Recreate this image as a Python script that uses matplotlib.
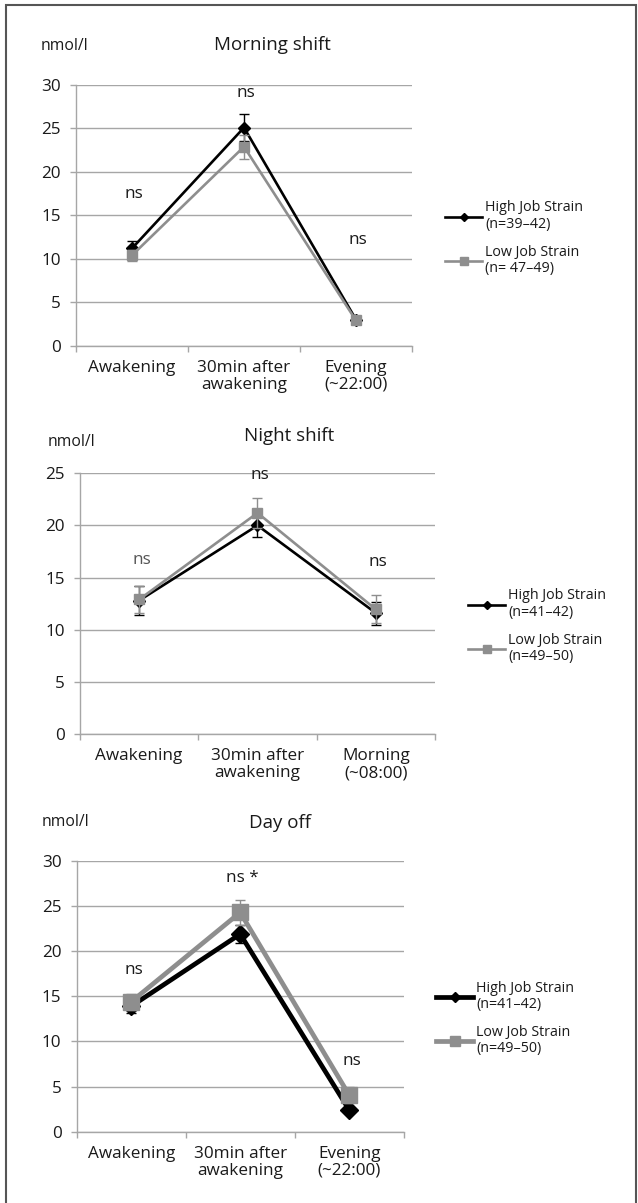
import matplotlib
matplotlib.use("Agg")
import matplotlib.pyplot as plt
from matplotlib.patches import Rectangle
from matplotlib.lines import Line2D

plt.rcParams['font.family'] = ['Open Sans', 'DejaVu Sans']

# ---------------- data ----------------
cats_morning = ["Awakening", "30min after\nawakening", "Evening\n(~22:00)"]
cats_night = ["Awakening", "30min after\nawakening", "Morning\n(~08:00)"]
cats_dayoff = ["Awakening", "30min after\nawakening", "Evening\n(~22:00)"]

morning_high = [11.2, 25.1, 3.0]
morning_high_err = [0.8, 1.6, 0.3]
morning_low = [10.4, 22.9, 2.9]
morning_low_err = [0.6, 1.4, 0.3]

night_high = [12.8, 20.0, 11.6]
night_high_err = [1.4, 1.1, 1.1]
night_low = [12.9, 21.2, 11.95]
night_low_err = [1.3, 1.4, 1.35]

dayoff_high = [13.9, 21.9, 2.4]
dayoff_high_err = [0.8, 1.0, 0.3]
dayoff_low = [14.4, 24.3, 4.05]
dayoff_low_err = [0.9, 1.4, 0.9]

titles = ["Morning shift", "Night shift", "Day off"]
ymaxes = [30, 25, 30]
legend_high = ["High Job Strain\n(n=39\u201342)", "High Job Strain\n(n=41\u201342)", "High Job Strain\n(n=41\u201342)"]
legend_low = ["Low Job Strain\n(n= 47\u201349)", "Low Job Strain\n(n=49\u201350)", "Low Job Strain\n(n=49\u201350)"]

# significance annotations: (category index, y value, text)
ann_morning = [(0, 17.4, "ns"), (1, 29.1, "ns"), (2, 12.2, "ns")]
ann_night = [(0, 16.7, "ns"), (1, 24.8, "ns"), (2, 16.5, "ns")]
ann_dayoff = [(0, 17.9, "ns"), (1, 28.1, "ns *"), (2, 7.8, "ns")]

# ---------------- layout ----------------
W, H = 638, 1203
fig = plt.figure(figsize=(W / 100, H / 100), dpi=100)
fig.patch.set_facecolor("white")

def fx(x):
    return x / W

def fy(y):
    return 1 - y / H

def rect(left, right, top, bottom):
    return [fx(left), fy(bottom), (right - left) / W, (bottom - top) / H]

axes_px = [(76, 412, 85, 345.7), (80, 435, 473.3, 734), (76.7, 403.7, 861, 1131.7)]
title_px = [(272, 44.5), (289, 435.5), (280, 823.5)]
unit_px = [(64, 46), (71.5, 441.7), (65, 821.7)]
legend_px = [(445, 200.5), (468, 588.5), (436, 980.5)]

BLACK = "#000000"
GRAY = "#8e8e8e"
GRID = "#a6a6a6"
TXT = "#1a1a1a"
FS = 12.3

panels = [
    (cats_morning, morning_high, morning_high_err, morning_low, morning_low_err, ann_morning),
    (cats_night, night_high, night_high_err, night_low, night_low_err, ann_night),
    (cats_dayoff, dayoff_high, dayoff_high_err, dayoff_low, dayoff_low_err, ann_dayoff),
]

for i, (cats, hi, hie, lo, loe, ann) in enumerate(panels):
    ax = fig.add_axes(rect(*axes_px[i]))
    x = list(range(len(cats)))
    thick = (i == 2)
    lw = 3.4 if thick else 1.9
    ms_d = 9 if thick else 6
    ms_s = 11 if thick else 7.5
    ax.errorbar(x, hi, yerr=hie, color=BLACK, ecolor=BLACK, lw=lw,
                marker="D", ms=ms_d, mec=BLACK, mfc=BLACK,
                capsize=3.5, elinewidth=1, capthick=1, zorder=3)
    ax.errorbar(x, lo, yerr=loe, color=GRAY, ecolor=GRAY, lw=lw,
                marker="s", ms=ms_s, mec=GRAY, mfc=GRAY,
                capsize=3.5, elinewidth=1, capthick=1, zorder=4)
    ax.set_xlim(-0.5, len(cats) - 0.5)
    ax.set_ylim(0, ymaxes[i])
    ax.set_yticks(range(0, ymaxes[i] + 1, 5))
    ax.set_xticks(x)
    ax.set_xticklabels(cats, linespacing=1.1)
    ax.set_xticks([-0.5, 0.5, 1.5, 2.5], minor=True)
    ax.tick_params(axis="x", which="major", length=0, pad=10, labelsize=FS, labelcolor=TXT)
    ax.tick_params(axis="x", which="minor", length=4.5, width=1, color=GRID, direction="out")
    ax.tick_params(axis="y", length=4, width=1, color=GRID, pad=7, labelsize=FS, labelcolor=TXT)
    ax.yaxis.grid(True, color=GRID, lw=1)
    ax.set_axisbelow(True)
    for s in ["top", "right"]:
        ax.spines[s].set_visible(False)
    for s in ["left", "bottom"]:
        ax.spines[s].set_color(GRID)
        ax.spines[s].set_linewidth(1)
    for (ci, yv, t) in ann:
        col = "#555555" if (i == 1 and ci == 0) else TXT
        ax.text(ci + 0.02, yv, t, ha="center", va="center", fontsize=FS, color=col)

    fig.text(fx(title_px[i][0]), fy(title_px[i][1]), titles[i], ha="center", va="center",
             fontsize=13.5, color=TXT)
    fig.text(fx(unit_px[i][0]), fy(unit_px[i][1]), "nmol/l", ha="center", va="center",
             fontsize=11.3, color=TXT)

    hh = Line2D([], [], color=BLACK, lw=lw, marker="D", ms=4.5 if not thick else 5.5, mfc=BLACK, mec=BLACK)
    lh = Line2D([], [], color=GRAY, lw=lw, marker="s", ms=6 if not thick else 7, mfc=GRAY, mec=GRAY)
    leg = ax.legend([hh, lh], [legend_high[i], legend_low[i]],
                    loc="upper left", bbox_to_anchor=(fx(legend_px[i][0]), fy(legend_px[i][1])),
                    bbox_transform=fig.transFigure, frameon=False, fontsize=10.3,
                    handlelength=2.6, handletextpad=0.2, labelspacing=0.95,
                    borderpad=0, borderaxespad=0, numpoints=1)
    for t in leg.get_texts():
        t.set_color(TXT)
        t.set_linespacing(1.1)

# outer frame
fig.patches.append(Rectangle((fx(6), fy(1210)), fx(630), (1210 - 5) / H,
                             transform=fig.transFigure, fill=False, edgecolor="#555555", lw=1.5))

fig.savefig("out.png", dpi=100)
